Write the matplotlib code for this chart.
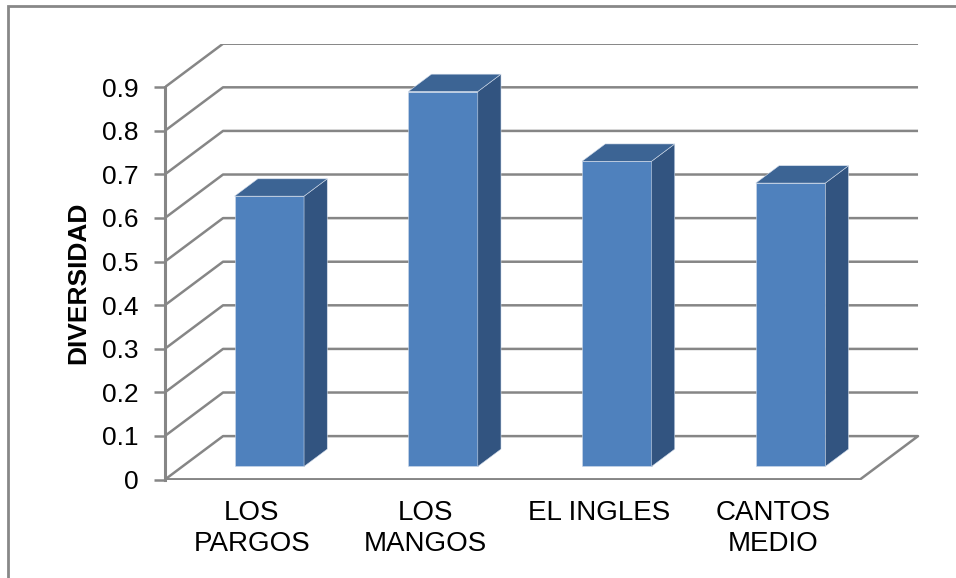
import matplotlib
matplotlib.use("Agg")
import matplotlib.pyplot as plt
from matplotlib import transforms
from matplotlib.patches import Polygon, Rectangle

plt.rcParams['font.family'] = ['Liberation Sans', 'DejaVu Sans']

categories = ["LOS\nPARGOS", "LOS\nMANGOS", "EL INGLES", "CANTOS\nMEDIO"]
diversidad = [0.62, 0.86, 0.70, 0.65]
y_ticks = [0, 0.1, 0.2, 0.3, 0.4, 0.5, 0.6, 0.7, 0.8, 0.9]
y_label = "DIVERSIDAD"

# oblique projection: full depth of the plot box, in data units
DX, DY = 0.334, 0.0995
BAR_Z0, BAR_DEPTH = 0.3, 0.4
BAR_W = 0.4

FRONT = "#4F81BD"
TOP = "#3C6494"
SIDE = "#325480"
GRID = "#868686"

W, H = 956, 578
fig = plt.figure(figsize=(W / 100, H / 100), dpi=100)

# axes placed in pixel terms: x 0..4 -> 165..860 px, y 0..1 -> 436 px tall
px_per_cat = 173.75
px_per_unit = 436.0
x_left, y_zero = 165.0, 479.5
xmax, ymax = 4.4, 1.0
ax = fig.add_axes([x_left / W, (H - y_zero) / H,
                   xmax * px_per_cat / W, ymax * px_per_unit / H])
ax.set_xlim(0, xmax)
ax.set_ylim(0, ymax)
for side in ("top", "right", "bottom"):
    ax.spines[side].set_visible(False)
ax.spines["left"].set_bounds(0, 0.9)
ax.spines["left"].set_color(GRID)
ax.spines["left"].set_linewidth(2.2)
ax.spines["left"].set_zorder(1)

ax.set_yticks(y_ticks)
ax.set_yticklabels([f"{t:g}" for t in y_ticks])
ax.tick_params(axis="y", length=8, width=1.8, color=GRID, pad=11,
               labelsize=19)

n = len(categories)
ax.set_xticks([i + 0.5 for i in range(n)])
ax.set_xticklabels(categories)
ax.tick_params(axis="x", length=0, pad=15, labelsize=20)
for lab in ax.get_xticklabels():
    lab.set_linespacing(1.22)

# wall gridlines: diagonal from the front axis, then along the back wall
for t in y_ticks[1:]:
    ax.plot([0, DX, n + DX], [t, t + DY, t + DY], color=GRID, lw=1.8,
            zorder=1, solid_capstyle="butt")

# floor
ax.plot([0, DX, n + DX, n, 0], [0, DY, DY, 0, 0], color=GRID, lw=1.8,
        zorder=1)
ax.plot([0, n], [0, 0], color=GRID, lw=2.6, zorder=1,
        solid_capstyle="butt")

# bars: front face drawn in the plane BAR_Z0 deep, plus side and top faces
bar_shift = transforms.Affine2D().translate(BAR_Z0 * DX, BAR_Z0 * DY) + ax.transData
x0s = [i + 0.5 - BAR_W / 2 for i in range(n)]
ax.bar(x0s, diversidad, width=BAR_W, align="edge", color=FRONT,
       edgecolor="#d0dbea", linewidth=0.4, transform=bar_shift, zorder=3)
ddx, ddy = BAR_DEPTH * DX, BAR_DEPTH * DY
for x0, v in zip(x0s, diversidad):
    x1 = x0 + BAR_W
    side_face = Polygon([(x1, 0), (x1, v), (x1 + ddx, v + ddy), (x1 + ddx, ddy)],
                        closed=True, facecolor=SIDE, edgecolor="#d0dbea",
                        linewidth=0.4, transform=bar_shift, zorder=3)
    top_face = Polygon([(x0, v), (x1, v), (x1 + ddx, v + ddy), (x0 + ddx, v + ddy)],
                       closed=True, facecolor=TOP, edgecolor="#d0dbea",
                       linewidth=0.4, transform=bar_shift, zorder=3)
    ax.add_patch(side_face)
    ax.add_patch(top_face)

fig.text(78 / W, (H - 283) / H, y_label, rotation=90, ha="center",
         va="center", fontsize=19, fontweight="bold")

# chart area border
fig.patches.append(Rectangle((8 / W, -0.1), 1.2, (H - 6) / H + 0.1,
                             transform=fig.transFigure, fill=False,
                             edgecolor="#888888", linewidth=2))

fig.savefig("out.png", dpi=100)
